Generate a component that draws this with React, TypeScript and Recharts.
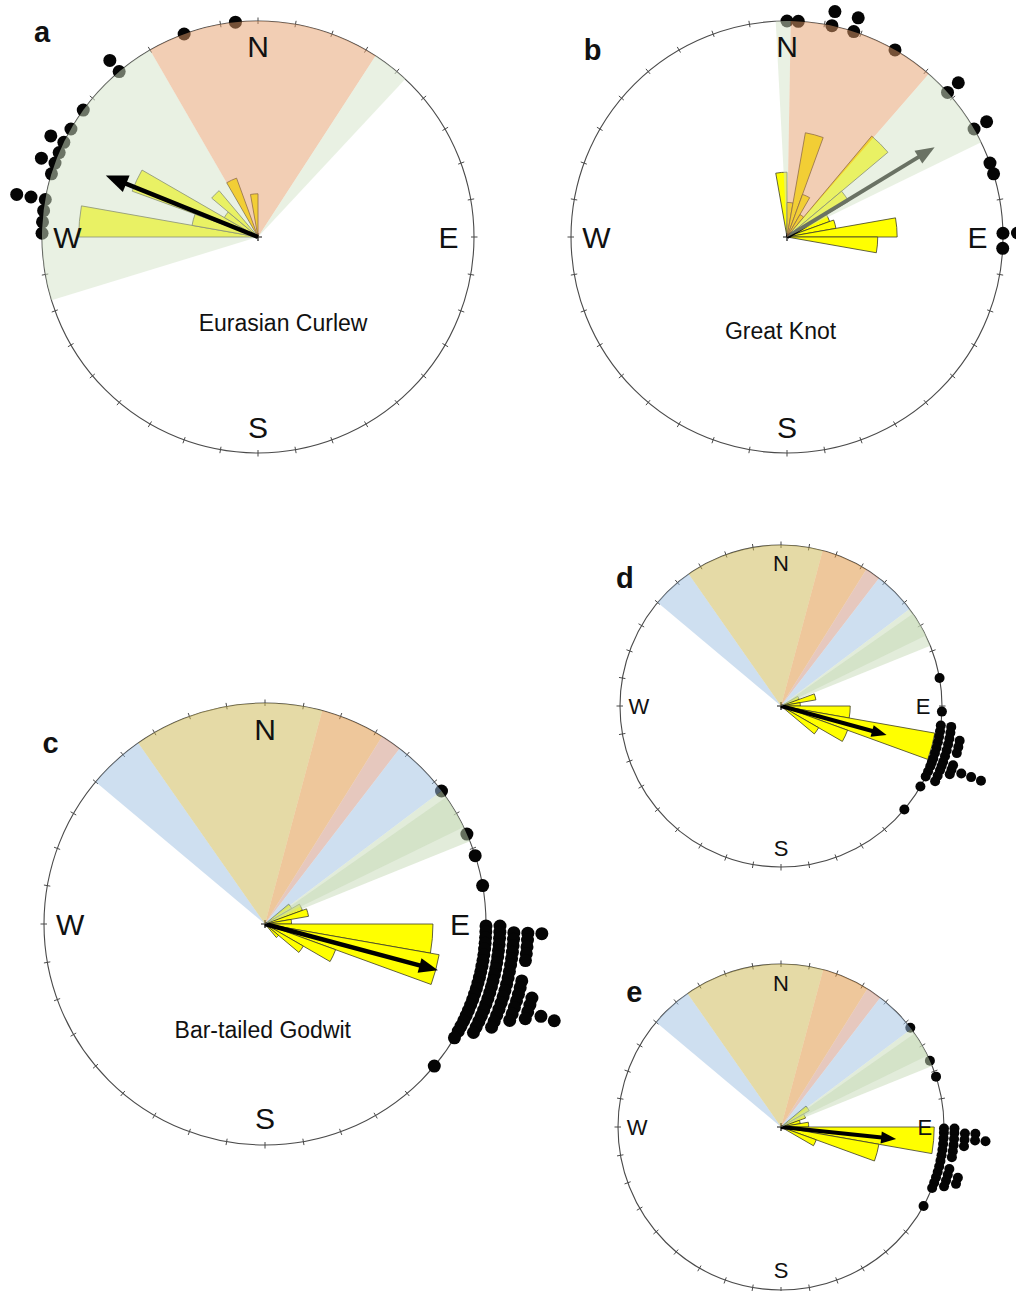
import React from 'react';
import { PieChart, Pie, ScatterChart, Scatter, XAxis, YAxis, ReferenceDot } from 'recharts';

// bearings: degrees clockwise from north; lengths: fraction of the circle radius

const compassLabels = ['N', 'E', 'S', 'W'];
const compassBearings = [0, 90, 180, 270];
const tickBearings = Array.from({ length: 36 }, (_, i) => i * 10);

const speciesNames = ['Eurasian Curlew', 'Great Knot', 'Bar-tailed Godwit', '', ''];
const panelLetters = ['a', 'b', 'c', 'd', 'e'];

// shaded sectors [from, to, colour]
const curlewSectors = [[253, 330, 'green'], [330, 393, 'peach'], [393, 403, 'green']];
const knotSectors = [[357, 361, 'green'], [361, 401, 'peach'], [401, 424, 'green']];
const godwitSectors = [
  [310, 325, 'blue'], [325, 375, 'tan'], [375, 392, 'amber'], [392, 397.5, 'pink'],
  [397.5, 413, 'blue'], [413, 428, 'sage'], [415, 424, 'sage'],
];

// rose wedges [from, to, length]
const curlewRose = [[270, 280, 0.83], [280, 290, 0.31], [290, 300, 0.62], [300, 310, 0.18], [310, 320, 0.28], [330, 340, 0.29], [350, 360, 0.2]];
const knotRose = [[350, 360, 0.3], [0, 10, 0.16], [10, 20, 0.49], [20, 30, 0.21], [30, 40, 0.12], [40, 50, 0.61], [50, 60, 0.33], [60, 70, 0.21], [70, 80, 0.23], [80, 90, 0.51], [90, 100, 0.42]];
const godwitRoseC = [[50, 60, 0.14], [60, 70, 0.18], [70, 80, 0.2], [80, 90, 0.12], [90, 100, 0.76], [100, 110, 0.8], [110, 120, 0.34], [120, 130, 0.2], [130, 140, 0.08]];
const godwitRoseD = [[60, 70, 0.12], [70, 80, 0.22], [80, 90, 0.12], [90, 100, 0.43], [100, 110, 0.97], [110, 120, 0.44], [120, 130, 0.27]];
const godwitRoseE = [[50, 60, 0.2], [60, 70, 0.16], [70, 80, 0.12], [80, 90, 0.17], [90, 100, 0.94], [100, 110, 0.61], [110, 120, 0.23]];

// mean vectors [bearing, length]
const curlewMean = [292, 0.76];
const knotMean = [58.7, 0.8];
const godwitMeanC = [105, 0.81];
const godwitMeanD = [105.3, 0.68];
const godwitMeanE = [96, 0.71];

// individual departures [bearing, count]
const curlewDots = [[354, 1], [340, 1], [320, 2], [306, 1], [300, 1], [296, 2], [293, 1], [290, 2], [287, 1], [280, 3], [277, 1], [274, 1], [271, 1]];
const knotDots = [[0, 1], [3, 1], [12, 2], [18, 2], [30, 1], [48, 2], [60, 2], [70, 1], [73, 1], [89, 2], [93, 1]];
const godwitDotsC = [
  [53, 1], [66, 1], [72, 1], [80, 1], [90.5, 2], [92, 5], [93.5, 4], [95, 4], [96.5, 4], [98, 4], [99.5, 3],
  [101, 3], [102.5, 4], [104, 4], [105.5, 5], [107, 5], [108.5, 7], [110, 5], [111.5, 4], [113, 3],
  [114.5, 3], [116, 2], [117.5, 2], [119, 1], [121, 1], [130, 1],
];
const godwitDotsD = [[80, 1], [92, 1], [97, 2], [99, 2], [101, 3], [103, 3], [105, 3], [107, 2], [109, 3], [110.5, 6], [112, 3], [114, 2], [116, 2], [120, 1], [130, 1]];
const godwitDotsE = [[52.5, 1], [66, 1], [72, 1], [90.5, 2], [92, 4], [94, 5], [96, 3], [98, 2], [100, 2], [102, 1], [104, 2], [106, 3], [108, 3], [110, 2], [112, 1], [119, 1]];

const sectorColours: Record<string, string> = {
  green: '#d3e3c7',
  peach: '#e59d69',
  blue: '#9dbfe1',
  tan: '#cbb54d',
  amber: '#dd8f37',
  pink: '#cd917d',
  sage: '#c5d9b5',
};

const layouts = [
  { cx: 258, cy: 237, r: 216, half: 320, dot: 6.5, step: 14.5, font: 30, shaft: 4.5, head: 22, headW: 9, letterAt: [-1.0, 0.95], speciesAt: [0.116, -0.4], arrowAbove: true },
  { cx: 787, cy: 237, r: 216, half: 320, dot: 6.5, step: 14.5, font: 30, shaft: 4, head: 19, headW: 7.5, letterAt: [-0.9, 0.866], speciesAt: [-0.03, -0.435], arrowAbove: false },
  { cx: 265, cy: 924, r: 221, half: 330, dot: 6.5, step: 14, font: 30, shaft: 4.5, head: 19, headW: 7.5, letterAt: [-0.97, 0.82], speciesAt: [-0.01, -0.48], arrowAbove: false },
  { cx: 781, cy: 706, r: 161, half: 240, dot: 5, step: 10.5, font: 22, shaft: 4, head: 15, headW: 6, letterAt: [-0.97, 0.795], speciesAt: [0, -0.5], arrowAbove: false },
  { cx: 781, cy: 1127, r: 163, half: 240, dot: 5, step: 10.5, font: 22, shaft: 4, head: 15, headW: 6, letterAt: [-0.9, 0.83], speciesAt: [0, -0.5], arrowAbove: false },
];

const toXY = (bearing: number, radius: number) => {
  const a = (bearing * Math.PI) / 180;
  return { x: radius * Math.sin(a), y: radius * Math.cos(a) };
};

const zero = { top: 0, right: 0, bottom: 0, left: 0 };
const layer: React.CSSProperties = { position: 'absolute', left: 0, top: 0 };

const RosePanel = ({ layout, sectors, rose, mean, records, species, letter }: any) => {
  const { r, half } = layout;
  const size = half * 2;
  const lim = half / r;

  const tickData = tickBearings.map((b) => ({ ...toXY(b, 1), b }));
  const dotData = records.flatMap(([b, n]: number[]) =>
    Array.from({ length: n }, (_, k) => toXY(b, 1 + (k * layout.step) / r))
  );
  const shaftData = [{ x: 0, y: 0 }, toXY(mean[0], mean[1] - (layout.head * 0.8) / r)];
  const tipData = [{ ...toXY(mean[0], mean[1]), b: mean[0] }];
  const textData = [
    ...compassLabels.map((t, i) => ({ ...toXY(compassBearings[i], 0.882), t, size: layout.font, weight: 400 })),
    { x: layout.speciesAt[0], y: layout.speciesAt[1], t: species, size: 23, weight: 400 },
    { x: layout.letterAt[0], y: layout.letterAt[1], t: letter, size: 29, weight: 700 },
  ];

  const xAxis = <XAxis type="number" dataKey="x" domain={[-lim, lim]} allowDataOverflow hide />;
  const yAxis = <YAxis type="number" dataKey="y" domain={[-lim, lim]} allowDataOverflow hide />;

  const arrowItems = [
    <Scatter key="shaft" data={shaftData} line={{ stroke: '#000', strokeWidth: layout.shaft }} lineType="joint"
      isAnimationActive={false} shape={() => <g />} />,
    <Scatter key="tip" data={tipData} isAnimationActive={false}
      shape={(p: any) => {
        const a = (p.payload.b * Math.PI) / 180;
        const s = Math.sin(a), c = Math.cos(a);
        const bx = p.cx - layout.head * s, by = p.cy + layout.head * c;
        const w = layout.headW;
        return <polygon points={`${p.cx},${p.cy} ${bx + w * c},${by + w * s} ${bx - w * c},${by - w * s}`} fill="#000" />;
      }} />,
  ];

  return (
    <div style={{ position: 'absolute', left: layout.cx - half, top: layout.cy - half, width: size, height: size }}>
      <div style={layer}>
        <PieChart width={size} height={size} margin={zero}>
          {rose.map(([b1, b2, len]: number[], i: number) => (
            <Pie key={i} data={[{ value: 1 }]} dataKey="value" cx="50%" cy="50%"
              startAngle={90 - b1} endAngle={90 - b2} innerRadius={0} outerRadius={len * r}
              fill="#ffff00" stroke="#3c3c28" strokeWidth={0.8} isAnimationActive={false} />
          ))}
        </PieChart>
      </div>
      <div style={layer}>
        <ScatterChart width={size} height={size} margin={zero}>
          {xAxis}
          {yAxis}
          <ReferenceDot x={0} y={0} r={r} fill="none" stroke="#4a4a4a" strokeWidth={1.1} ifOverflow="visible" />
          <Scatter data={tickData} isAnimationActive={false}
            shape={(p: any) => {
              const a = (p.payload.b * Math.PI) / 180;
              const s = Math.sin(a), c = Math.cos(a);
              return <line x1={p.cx - 3 * s} y1={p.cy + 3 * c} x2={p.cx + 3.5 * s} y2={p.cy - 3.5 * c} stroke="#4a4a4a" strokeWidth={1} />;
            }} />
          <Scatter data={[{ x: 0, y: 0 }]} isAnimationActive={false}
            shape={(p: any) => (
              <path d={`M${p.cx - 4},${p.cy}H${p.cx + 4}M${p.cx},${p.cy - 4}V${p.cy + 4}`} stroke="#111" strokeWidth={1.2} />
            )} />
          <Scatter data={dotData} fill="#000" isAnimationActive={false}
            shape={(p: any) => <circle cx={p.cx} cy={p.cy} r={layout.dot} fill="#050505" />} />
          {!layout.arrowAbove && arrowItems}
        </ScatterChart>
      </div>
      <div style={layer}>
        <PieChart width={size} height={size} margin={zero}>
          {sectors.map(([b1, b2, key]: any[], i: number) => (
            <Pie key={i} data={[{ value: 1 }]} dataKey="value" cx="50%" cy="50%"
              startAngle={90 - b1} endAngle={90 - b2} innerRadius={0} outerRadius={r}
              fill={sectorColours[key]} fillOpacity={0.5} stroke="none" isAnimationActive={false} />
          ))}
        </PieChart>
      </div>
      <div style={layer}>
        <ScatterChart width={size} height={size} margin={zero}>
          {xAxis}
          {yAxis}
          {layout.arrowAbove && arrowItems}
          <Scatter data={textData} isAnimationActive={false}
            shape={(p: any) => (
              <text x={p.cx} y={p.cy} textAnchor="middle" dominantBaseline="central"
                fontSize={p.payload.size} fontWeight={p.payload.weight} fill="#111">
                {p.payload.t}
              </text>
            )} />
        </ScatterChart>
      </div>
    </div>
  );
};

const panelSectors = [curlewSectors, knotSectors, godwitSectors, godwitSectors, godwitSectors];
const panelRoses = [curlewRose, knotRose, godwitRoseC, godwitRoseD, godwitRoseE];
const panelMeans = [curlewMean, knotMean, godwitMeanC, godwitMeanD, godwitMeanE];
const panelDots = [curlewDots, knotDots, godwitDotsC, godwitDotsD, godwitDotsE];

export default function App() {
  return (
    <div style={{
      position: 'absolute', left: 0, top: 0, width: 1016, height: 1291, overflow: 'hidden',
      background: '#fff', fontFamily: '"Liberation Sans", Arial, sans-serif',
    }}>
      {layouts.map((layout, i) => (
        <RosePanel key={i} layout={layout} sectors={panelSectors[i]} rose={panelRoses[i]}
          mean={panelMeans[i]} records={panelDots[i]} species={speciesNames[i]} letter={panelLetters[i]} />
      ))}
    </div>
  );
}
